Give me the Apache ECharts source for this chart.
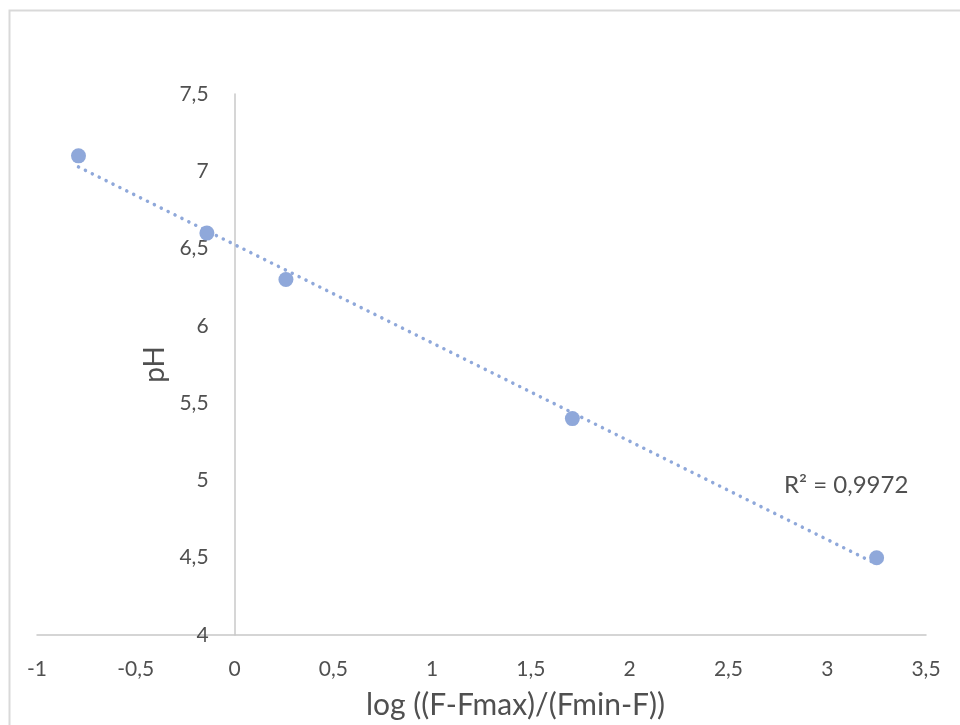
<!DOCTYPE html>
<html>
<head>
<meta charset="utf-8">
<script src="https://cdn.jsdelivr.net/npm/echarts@6/dist/echarts.min.js"></script>
<style>html,body{margin:0;padding:0;background:#fff}#c{width:960px;height:725px}</style>
</head>
<body>
<div id="c"></div>
<script>
// Data
const xValues = [-0.79, -0.14, 0.26, 1.71, 3.25];
const yValues = [7.1, 6.6, 6.3, 5.4, 4.5];
const xTitle = 'log ((F-Fmax)/(Fmin-F))';
const yTitle = 'pH';
const r2Label = 'R² = 0,9972';
const xTicks = {min: -1, max: 3.5, interval: 0.5};
const yTicks = {min: 4, max: 7.5, interval: 0.5};

// Linear trendline (least squares) over the points
const n = xValues.length;
const mx = xValues.reduce((a, b) => a + b, 0) / n;
const my = yValues.reduce((a, b) => a + b, 0) / n;
let sxy = 0, sxx = 0;
for (let i = 0; i < n; i++) { sxy += (xValues[i] - mx) * (yValues[i] - my); sxx += (xValues[i] - mx) ** 2; }
const slope = sxy / sxx, icpt = my - slope * mx;
const xMin = Math.min(...xValues), xMax = Math.max(...xValues);
const trend = [[xMin, icpt + slope * xMin], [xMax, icpt + slope * xMax]];

const fmt = v => String(v).replace('.', ',');
const font = 'Lato, "Open Sans", sans-serif';
const txt = '#505050';

const W = 960, gridLeft = 37, gridRight = 34;
const gridW = W - gridLeft - gridRight;
// y axis crosses the x axis at x = 0
const yAxisOffset = -gridW * (0 - xTicks.min) / (xTicks.max - xTicks.min);

const chart = echarts.init(document.getElementById('c'), null, {renderer: 'canvas'});
chart.setOption({
  animation: false,
  backgroundColor: '#fff',
  textStyle: {fontFamily: font},
  grid: {left: gridLeft, right: gridRight, top: 94, bottom: 90, containLabel: false, outerBoundsMode: 'none'},
  xAxis: {
    type: 'value', min: xTicks.min, max: xTicks.max, interval: xTicks.interval,
    name: xTitle, nameLocation: 'middle', nameGap: 55,
    nameTextStyle: {fontSize: 30, color: txt, fontFamily: font, padding: [0, 0, 0, 68]},
    axisLine: {show: true, onZero: false, lineStyle: {color: '#c8c8c8', width: 1.5}},
    axisTick: {show: false},
    splitLine: {show: false},
    axisLabel: {formatter: fmt, fontSize: 21, color: txt, margin: 24, fontFamily: font}
  },
  yAxis: {
    type: 'value', min: yTicks.min, max: yTicks.max, interval: yTicks.interval,
    position: 'left', offset: yAxisOffset,
    name: yTitle, nameLocation: 'middle', nameGap: 56, nameRotate: 90,
    nameTextStyle: {fontSize: 28, color: txt, fontFamily: font},
    axisLine: {show: true, onZero: false, lineStyle: {color: '#c8c8c8', width: 1.5}},
    axisTick: {show: false},
    splitLine: {show: false},
    axisLabel: {formatter: fmt, fontSize: 21, color: txt, margin: 26, fontFamily: font}
  },
  series: [
    {
      type: 'line', data: trend, showSymbol: false, symbol: 'none', z: 1,
      lineStyle: {color: '#8FA8DA', width: 3.5, type: [0.1, 7.6], cap: 'round'}
    },
    {
      type: 'scatter', data: xValues.map((x, i) => [x, yValues[i]]),
      symbolSize: 15, z: 2,
      itemStyle: {color: '#8FA8DA', opacity: 1}
    }
  ],
  graphic: [
    {type: 'rect', shape: {x: 9.5, y: 10.5, width: 1000, height: 1000}, style: {fill: null, stroke: '#d9d9d9', lineWidth: 2}, silent: true, z: -10},
    {type: 'text', left: 784, top: 473, style: {text: r2Label, fontSize: 24, fill: txt, fontFamily: font}}
  ]
});
</script>
</body>
</html>
